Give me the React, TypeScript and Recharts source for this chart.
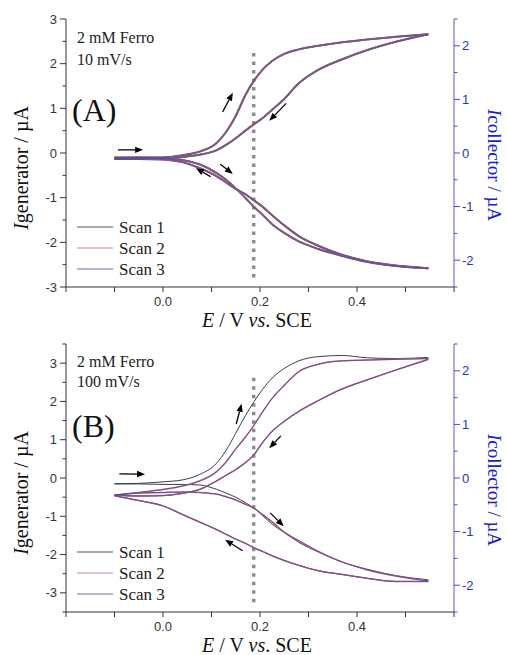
import { ComposedChart, Line, XAxis, YAxis, ReferenceLine } from "recharts";

const W = 507;
const H = 330;

const E_GRID = [-0.1, -0.05, 0, 0.04, 0.075, 0.11, 0.13, 0.15, 0.17, 0.187, 0.205, 0.225, 0.25, 0.28, 0.32, 0.37, 0.42, 0.48, 0.547];

const X_TICKS = [-0.2, -0.1, 0, 0.1, 0.2, 0.3, 0.4, 0.5, 0.6];
const X_LABELS = [0, 0.2, 0.4];
const RIGHT_TICKS = [-2.5, -2, -1.5, -1, -0.5, 0, 0.5, 1, 1.5, 2, 2.5];
const LEFT_TICKS_A = [-3, -2.5, -2, -1.5, -1, -0.5, 0, 0.5, 1, 1.5, 2, 2.5, 3];
const LEFT_TICKS_B = [-3.5, -3, -2.5, -2, -1.5, -1, -0.5, 0, 0.5, 1, 1.5, 2, 2.5, 3, 3.5];

// (A) 10 mV/s - the three scans lie on top of each other
// *_FWD = anodic sweep, *_REV = return sweep, both read along E_GRID
const A_GEN_FWD = [-0.1, -0.1, -0.1, -0.05, 0.03, 0.22, 0.47, 0.83, 1.3, 1.61, 1.86, 2.06, 2.22, 2.32, 2.4, 2.48, 2.54, 2.6, 2.66];
const A_GEN_REV = [-0.12, -0.12, -0.12, -0.09, -0.04, 0.06, 0.18, 0.33, 0.5, 0.64, 0.78, 0.97, 1.21, 1.56, 1.86, 2.1, 2.3, 2.49, 2.66];
const A_COL_FWD = [-0.1, -0.09, -0.1, -0.13, -0.21, -0.37, -0.5, -0.66, -0.84, -1.0, -1.15, -1.33, -1.49, -1.65, -1.79, -1.92, -2.03, -2.11, -2.15];
const A_COL_REV = [-0.11, -0.11, -0.12, -0.17, -0.28, -0.43, -0.55, -0.67, -0.77, -0.88, -1.0, -1.16, -1.35, -1.55, -1.73, -1.9, -2.02, -2.1, -2.15];

// (B) 100 mV/s - scan 1 starts from rest, scans 2 and 3 repeat each other
const B_GEN_FWD_1 = [-0.15, -0.14, -0.1, -0.05, 0.09, 0.38, 0.72, 1.17, 1.63, 1.98, 2.31, 2.61, 2.86, 3.06, 3.17, 3.2, 3.14, 3.12, 3.15];
const B_GEN_FWD_23 = [-0.45, -0.38, -0.3, -0.21, -0.08, 0.16, 0.42, 0.76, 1.07, 1.37, 1.72, 2.08, 2.42, 2.78, 2.97, 3.06, 3.08, 3.1, 3.12];
const B_GEN_REV = [-0.45, -0.47, -0.46, -0.4, -0.3, -0.08, 0.07, 0.22, 0.4, 0.6, 0.92, 1.22, 1.48, 1.74, 2.02, 2.33, 2.56, 2.82, 3.1];
const B_COL_FWD_1 = [-0.11, -0.11, -0.12, -0.12, -0.13, -0.21, -0.28, -0.36, -0.46, -0.56, -0.7, -0.86, -1.02, -1.2, -1.38, -1.57, -1.7, -1.82, -1.9];
const B_COL_FWD_23 = [-0.32, -0.28, -0.27, -0.26, -0.27, -0.3, -0.35, -0.41, -0.49, -0.56, -0.68, -0.82, -1.01, -1.17, -1.37, -1.57, -1.71, -1.83, -1.92];
const B_COL_REV = [-0.33, -0.42, -0.52, -0.68, -0.82, -0.96, -1.05, -1.14, -1.22, -1.3, -1.37, -1.45, -1.54, -1.63, -1.73, -1.8, -1.87, -1.93, -1.93];

const SCANS = ["Scan 1", "Scan 2", "Scan 3"];
const SCAN_COLORS = ["#3a3a4c", "#c46a6a", "#4a4ab4"];
const LEGEND_COLORS = ["#555566", "#d08a8a", "#6a6ab4"];

const SERIF = "Liberation Serif, Times New Roman, serif";
const SANS = "Liberation Sans, Arial, sans-serif";
const BLUE = "#1c1ccc";

const branch = (vals: number[]) => E_GRID.map((e, k) => ({ e, i: vals[k] }));

const leftTick = ({ x, y, payload }: any) => {
  const major = Number.isInteger(payload.value);
  return (
    <g>
      <line x1={x} y1={y} x2={x - (major ? 6 : 3.5)} y2={y} stroke="#333" />
      {major && (
        <text x={x - 9} y={y + 4.5} textAnchor="end" fontSize={13} fill="#333" style={{ fontFamily: SANS }}>
          {payload.value}
        </text>
      )}
    </g>
  );
};

const rightTick = ({ x, y, payload }: any) => {
  const major = Number.isInteger(payload.value);
  return (
    <g>
      <line x1={x} y1={y} x2={x + (major ? 6 : 3.5)} y2={y} stroke="#4a4acc" />
      {major && (
        <text x={x + 8} y={y + 4.5} textAnchor="start" fontSize={13} fill="#2a36b0" style={{ fontFamily: SANS }}>
          {payload.value}
        </text>
      )}
    </g>
  );
};

const bottomTick = ({ x, y, payload }: any) => (
  <g>
    <line x1={x} y1={y} x2={x} y2={y + 5} stroke="#333" />
    {X_LABELS.includes(payload.value) && (
      <text x={x} y={y + 19} textAnchor="middle" fontSize={13} fill="#333" style={{ fontFamily: SANS }}>
        {payload.value.toFixed(1)}
      </text>
    )}
  </g>
);

const topTick = ({ x, y }: any) => <line x1={x} y1={y} x2={x} y2={y + 5} stroke="#333" />;

const Arrow = (p: any) => {
  const { x1, y1, x2, y2 } = p;
  const a = Math.atan2(y2 - y1, x2 - x1);
  const len = 8;
  const half = 3.2;
  const bx = x2 - len * Math.cos(a);
  const by = y2 - len * Math.sin(a);
  const pts = `${x2},${y2} ${bx - half * Math.sin(a)},${by + half * Math.cos(a)} ${bx + half * Math.sin(a)},${by - half * Math.cos(a)}`;
  return (
    <g>
      <line x1={x1} y1={y1} x2={bx} y2={by} stroke="#000" strokeWidth={1.3} />
      <polygon points={pts} fill="#000" />
    </g>
  );
};

type Series = { key: string; data: { e: number; i: number }[]; axis: "l" | "r"; color: string; width: number };

type PanelSpec = {
  top: number;
  letter: string;
  rate: string;
  leftDomain: [number, number];
  leftTicks: number[];
  series: Series[];
  marker: [number, number];
  arrows: { from: [number, number]; to: [number, number] }[];
  concY: number;
  rateY: number;
  letterY: number;
};

// each sweep is drawn as two branches so that E rises along every line
const sweeps = (
  tag: string,
  k: number,
  width: number,
  gen: [number[], number[]],
  col: [number[], number[]]
): Series[] => [
  { key: `${tag}-gf-${k}`, data: branch(gen[0]), axis: "l", color: SCAN_COLORS[k], width },
  { key: `${tag}-gr-${k}`, data: branch(gen[1]), axis: "l", color: SCAN_COLORS[k], width },
  { key: `${tag}-cf-${k}`, data: branch(col[0]), axis: "r", color: SCAN_COLORS[k], width },
  { key: `${tag}-cr-${k}`, data: branch(col[1]), axis: "r", color: SCAN_COLORS[k], width },
];

const A_WIDTHS = [2.0, 1.4, 0.8];
const panelA: PanelSpec = {
  top: 0,
  letter: "(A)",
  rate: "10 mV/s",
  leftDomain: [-3, 3],
  leftTicks: LEFT_TICKS_A,
  series: SCANS.flatMap((s, k) => sweeps("a", k, A_WIDTHS[k], [A_GEN_FWD, A_GEN_REV], [A_COL_FWD, A_COL_REV])),
  marker: [2.24, -2.89],
  arrows: [
    { from: [-0.093, 0.07], to: [-0.041, 0.07] },
    { from: [0.123, 0.92], to: [0.144, 1.35] },
    { from: [0.254, 1.11], to: [0.219, 0.72] },
    { from: [0.118, -0.25], to: [0.144, -0.47] },
    { from: [0.098, -0.53], to: [0.068, -0.34] },
  ],
  concY: 43,
  rateY: 65,
  letterY: 121,
};

const B_WIDTHS = [1.0, 1.5, 0.8];
const panelB: PanelSpec = {
  top: 325,
  letter: "(B)",
  rate: "100 mV/s",
  leftDomain: [-3.5, 3.5],
  leftTicks: LEFT_TICKS_B,
  series: SCANS.flatMap((s, k) =>
    sweeps(
      "b",
      k,
      B_WIDTHS[k],
      [k === 0 ? B_GEN_FWD_1 : B_GEN_FWD_23, B_GEN_REV],
      [k === 0 ? B_COL_FWD_1 : B_COL_FWD_23, B_COL_REV]
    )
  ),
  marker: [2.62, -3.37],
  arrows: [
    { from: [-0.09, 0.11], to: [-0.037, 0.1] },
    { from: [0.151, 1.41], to: [0.162, 1.94] },
    { from: [0.243, 1.1], to: [0.219, 0.78] },
    { from: [0.221, -0.91], to: [0.249, -1.26] },
    { from: [0.164, -1.9], to: [0.128, -1.61] },
  ],
  concY: 42,
  rateY: 62,
  letterY: 112,
};

const MARKER_E = 0.187;

function Panel({ p }: { p: PanelSpec }) {
  const serif = { fontFamily: SERIF };
  return (
    <div style={{ position: "absolute", left: 0, top: p.top, width: W, height: H }}>
      <ComposedChart width={W} height={H} margin={{ top: 19, right: 13, bottom: 13, left: 26 }}>
        <XAxis
          xAxisId="b"
          dataKey="e"
          type="number"
          domain={[-0.2, 0.6]}
          ticks={X_TICKS}
          interval={0}
          height={30}
          tickSize={0}
          tickMargin={0}
          tickLine={false}
          stroke="#333"
          tick={bottomTick}
        />
        <XAxis
          xAxisId="t"
          orientation="top"
          type="number"
          domain={[-0.2, 0.6]}
          ticks={X_TICKS}
          interval={0}
          height={0}
          tickSize={0}
          tickMargin={0}
          tickLine={false}
          stroke="#333"
          tick={topTick}
        />
        <YAxis
          yAxisId="l"
          type="number"
          domain={p.leftDomain}
          ticks={p.leftTicks}
          interval={0}
          width={40}
          tickSize={0}
          tickMargin={0}
          tickLine={false}
          stroke="#333"
          tick={leftTick}
        />
        <YAxis
          yAxisId="r"
          orientation="right"
          type="number"
          domain={[-2.5, 2.5]}
          ticks={RIGHT_TICKS}
          interval={0}
          width={40}
          tickSize={0}
          tickMargin={0}
          tickLine={false}
          stroke="#5a5acc"
          tick={rightTick}
        />
        <ReferenceLine
          xAxisId="b"
          yAxisId="l"
          segment={[
            { x: MARKER_E, y: p.marker[0] },
            { x: MARKER_E, y: p.marker[1] },
          ]}
          stroke="#8c8c8c"
          strokeWidth={3.5}
          strokeDasharray="3.5 5"
        />
        {p.series.map((s) => (
          <Line
            key={s.key}
            data={s.data}
            dataKey="i"
            xAxisId="b"
            yAxisId={s.axis}
            type="monotone"
            stroke={s.color}
            strokeWidth={s.width}
            dot={false}
            activeDot={false}
            isAnimationActive={false}
          />
        ))}
        {p.arrows.map((a, k) => (
          <ReferenceLine
            key={`arrow-${k}`}
            xAxisId="b"
            yAxisId="l"
            segment={[
              { x: a.from[0], y: a.from[1] },
              { x: a.to[0], y: a.to[1] },
            ]}
            shape={Arrow}
          />
        ))}
      </ComposedChart>

      <svg width={W} height={H} style={{ position: "absolute", left: 0, top: 0, pointerEvents: "none" }}>
        <text x={77} y={p.concY} fontSize={16} fill="#222" style={serif}>2 mM Ferro</text>
        <text x={77} y={p.rateY} fontSize={16} fill="#222" style={serif}>{p.rate}</text>
        <text x={72} y={p.letterY} fontSize={32} fill="#111" style={serif}>{p.letter}</text>

        <text x={28} y={168} fontSize={20} fill="#111" textAnchor="middle" transform="rotate(-90 28 168)" style={serif}>
          <tspan fontStyle="italic">I</tspan>generator / µA
        </text>
        <text x={488} y={165} fontSize={19} fill={BLUE} textAnchor="middle" transform="rotate(90 488 165)" style={serif}>
          <tspan fontStyle="italic">I</tspan>collector / µA
        </text>
        <text x={257} y={327} fontSize={20} fill="#111" textAnchor="middle" style={serif}>
          <tspan fontStyle="italic">E</tspan> / V <tspan fontStyle="italic">vs</tspan>. SCE
        </text>

        {SCANS.map((s, k) => (
          <g key={s}>
            <line x1={77} x2={113} y1={227 + 21 * k} y2={227 + 21 * k} stroke={LEGEND_COLORS[k]} strokeWidth={1.2} />
            <text x={119} y={233 + 21 * k} fontSize={17} fill="#222" style={serif}>{s}</text>
          </g>
        ))}
      </svg>
    </div>
  );
}

export default function App() {
  return (
    <div style={{ position: "absolute", left: 0, top: 0, width: W, height: 655, background: "#fff", overflow: "hidden" }}>
      <Panel p={panelA} />
      <Panel p={panelB} />
    </div>
  );
}
